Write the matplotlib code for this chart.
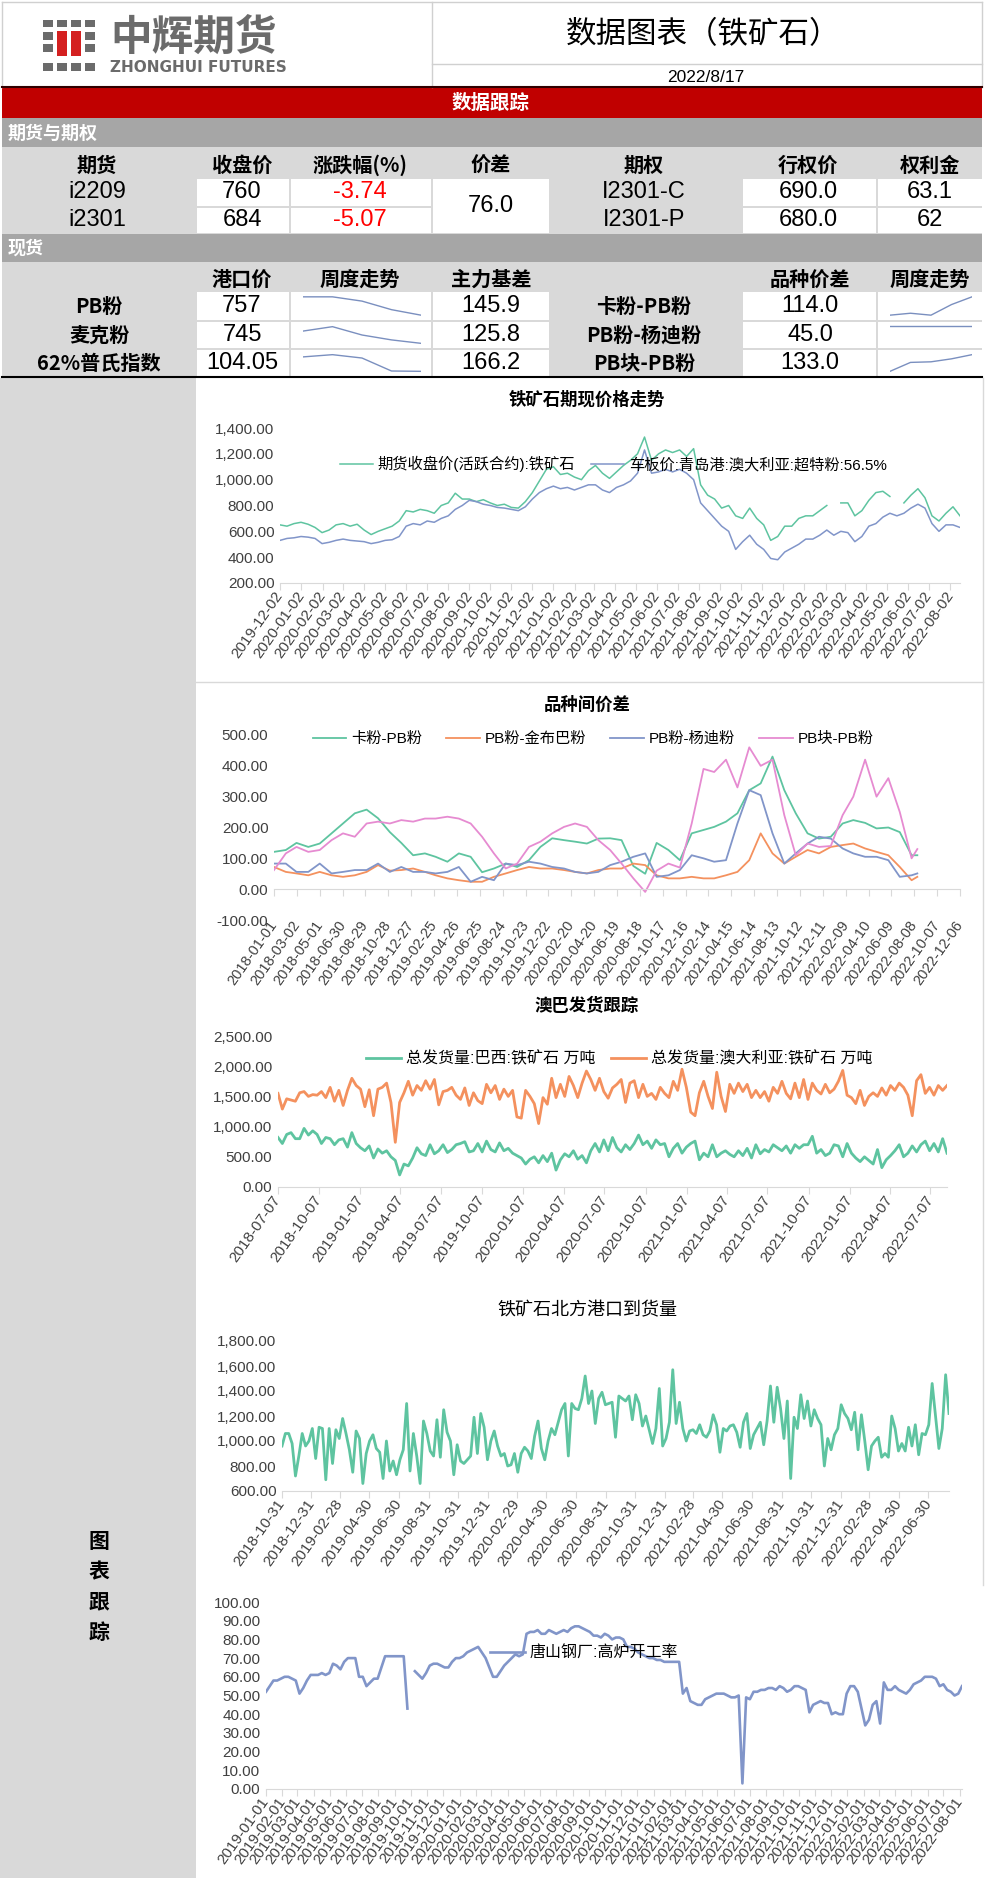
import numpy as np
import pandas as pd
import matplotlib
matplotlib.use('Agg')
import matplotlib.pyplot as plt
from matplotlib.patches import Rectangle
from matplotlib.ticker import FuncFormatter

plt.rcParams['font.family'] = ['Liberation Sans', 'Noto Sans CJK SC', 'DejaVu Sans']
CJK = ['Noto Sans CJK SC', 'DejaVu Sans']
NARROW = ['Liberation Sans Narrow', 'Liberation Sans', 'DejaVu Sans']
nan = np.nan

# ---------------- table data ----------------
fut_cols = ['期货', '收盘价', '涨跌幅(%)', '价差', '期权', '行权价', '权利金']
fut_codes = ['i2209', 'i2301']
fut_close = ['760', '684']
fut_chg = ['-3.74', '-5.07']
fut_spread = '76.0'
opt_codes = ['I2301-C', 'I2301-P']
opt_strike = ['690.0', '680.0']
opt_premium = ['63.1', '62']

spot_cols = ['港口价', '周度走势', '主力基差', '品种价差', '周度走势']
spot_names = ['PB粉', '麦克粉', '62%普氏指数']
spot_price = ['757', '745', '104.05']
spot_basis = ['145.9', '125.8', '166.2']
pair_names = ['卡粉-PB粉', 'PB粉-杨迪粉', 'PB块-PB粉']
pair_spread = ['114.0', '45.0', '133.0']

spot_week = [[787, 787, 780, 766, 757],
             [770, 779, 762, 752, 745],
             [110.5, 111.5, 110.0, 104.2, 104.05]]
pair_week = [[95, 97, 95, 106, 114],
             [45, 45, 45, 45, 45],
             [105, 120, 121, 126, 133]]

# ---------------- chart 1: futures vs spot ----------------
futures_close = [650, 640, 660, 670, 655, 630, 590, 610, 650, 660, 640, 655, 610, 575, 600,
                 620, 640, 680, 760, 750, 770, 760, 740, 800, 820, 895, 850, 850, 830, 845,
                 820, 800, 810, 785, 780, 830, 900, 990, 1080, 1100, 1040, 1050, 1020, 1000,
                 1070, 1110, 1050, 1010, 1060, 1110, 1150, 1200, 1330, 1150, 1200, 1230, 1210,
                 1230, 1180, 1240, 960, 880, 850, 780, 800, 720, 700, 780, 700, 650, 530, 560,
                 640, 640, 700, 720, 720, 760, 800, nan, 820, 820, 720, 760, 840, 900, 910, 870,
                 nan, 820, 880, 930, 860, 720, 680, 740, 790, 720]
spot_qd = [530, 545, 550, 560, 555, 545, 505, 515, 530, 540, 530, 525, 520, 505, 515, 530,
           535, 560, 640, 660, 650, 680, 670, 700, 720, 770, 800, 840, 830, 810, 800, 785,
           780, 770, 760, 790, 850, 900, 930, 950, 930, 940, 920, 940, 960, 960, 920, 900,
           940, 960, 990, 1050, 1230, 1050, 1060, 1080, 1060, 1080, 1050, 1000, 820, 760,
           700, 640, 600, 460, 520, 570, 500, 460, 390, 380, 440, 470, 500, 540, 540, 570,
           610, 570, 600, 590, 520, 560, 640, 660, 710, 740, 720, 740, 780, 810, 780, 660,
           600, 650, 650, 630]

# ---------------- chart 2: spreads (monthly) ----------------
kb_pb = [121, 127, 150, 137, 148, 181, 213, 246, 258, 230, 185, 150,
         110, 116, 105, 89, 116, 105, 55, 67, 83, 72, 94, 137,
         165, 159, 154, 148, 164, 165, 159, 75, 50, 150, 127, 94,
         181, 192, 202, 219, 246, 321, 343, 430, 321, 246, 181, 164,
         170, 213, 224, 215, 197, 200, 185, 110, 110]
pb_jbb = [72, 56, 51, 45, 56, 45, 40, 45, 56, 78, 60, 62,
          67, 56, 45, 35, 29, 24, 24, 40, 51, 62, 72, 67,
          67, 62, 56, 51, 62, 67, 67, 83, 78, 45, 35, 35,
          40, 35, 35, 45, 56, 94, 181, 116, 83, 105, 127, 116,
          137, 143, 148, 132, 121, 110, 72, 29, 40]
pb_yd = [83, 83, 56, 56, 83, 51, 56, 62, 62, 83, 56, 72,
         56, 56, 51, 56, 72, 24, 40, 29, 83, 78, 89, 83,
         72, 67, 56, 51, 56, 78, 89, 105, 116, 40, 45, 62,
         110, 100, 89, 94, 213, 321, 305, 181, 83, 116, 148, 170,
         164, 132, 116, 105, 105, 94, 40, 45, 51]
lump_pb = [62, 116, 137, 121, 127, 159, 181, 170, 213, 219, 213, 224,
           219, 229, 229, 235, 229, 213, 170, 116, 67, 83, 137, 154,
           181, 202, 213, 202, 159, 127, 83, 35, -9, 60, 83, 70,
           213, 390, 380, 420, 330, 460, 400, 420, 240, 110, 148, 137,
           140, 240, 300, 420, 300, 360, 250, 100, 130]

# ---------------- chart 3: shipments ----------------
brazil = [820, 720, 870, 900, 800, 800, 970, 860, 930, 870, 720, 820, 800, 700, 780, 800,
          660, 900, 720, 650, 600, 680, 480, 630, 560, 600, 500, 440, 200, 380, 350, 480,
          650, 550, 520, 700, 550, 600, 700, 570, 620, 700, 720, 750, 580, 600, 720, 580,
          760, 620, 580, 730, 600, 640, 560, 520, 480, 380, 460, 500, 400, 520, 420, 560,
          280, 450, 550, 500, 600, 460, 520, 400, 600, 720, 580, 780, 600, 820, 650, 580,
          700, 620, 720, 860, 700, 760, 640, 780, 700, 720, 500, 640, 720, 560, 660, 720,
          760, 450, 560, 500, 700, 500, 560, 600, 540, 500, 600, 520, 640, 480, 700, 550,
          620, 580, 700, 650, 600, 680, 560, 700, 640, 700, 700, 840, 560, 620, 520, 560,
          700, 680, 500, 720, 560, 480, 420, 500, 440, 380, 620, 320, 450, 520, 600, 700,
          500, 560, 680, 580, 700, 760, 600, 720, 580, 800, 560]
australia = [1550, 1290, 1460, 1440, 1420, 1560, 1580, 1500, 1530, 1520, 1580, 1480, 1650,
             1420, 1600, 1350, 1600, 1800, 1680, 1620, 1330, 1610, 1180, 1620, 1650, 1720,
             1400, 740, 1400, 1560, 1750, 1520, 1680, 1600, 1760, 1620, 1780, 1360, 1580,
             1600, 1650, 1520, 1450, 1640, 1350, 1560, 1430, 1380, 1700, 1560, 1680, 1450,
             1620, 1500, 1600, 1160, 1140, 1600, 1500, 1380, 1050, 1480, 1370, 1800, 1480,
             1700, 1500, 1830, 1680, 1480, 1720, 1920, 1780, 1600, 1800, 1580, 1470, 1640,
             1700, 1780, 1400, 1720, 1760, 1480, 1700, 1500, 1550, 1450, 1650, 1550, 1480,
             1750, 1600, 1950, 1650, 1240, 1180, 1560, 1750, 1500, 1300, 1900, 1500, 1250,
             1700, 1550, 1720, 1580, 1700, 1480, 1600, 1480, 1580, 1420, 1650, 1550, 1750,
             1550, 1460, 1720, 1480, 1780, 1450, 1720, 1600, 1540, 1700, 1560, 1620, 1750,
             1930, 1520, 1480, 1380, 1600, 1350, 1500, 1560, 1500, 1640, 1520, 1680, 1600,
             1720, 1650, 1520, 1180, 1760, 1860, 1550, 1650, 1520, 1680, 1600, 1680]

# ---------------- chart 4: northern port arrivals ----------------
arrivals = [960, 1060, 1060, 980, 720, 880, 1060, 960, 1000, 1100, 860, 1110, 1100, 690,
            1100, 820, 1090, 1020, 1180, 1060, 930, 750, 1080, 1020, 660, 900, 1000, 1050,
            940, 910, 700, 1000, 760, 840, 730, 850, 930, 1300, 760, 1060, 880, 660, 1160,
            1060, 920, 880, 1170, 870, 1250, 1070, 1000, 730, 970, 840, 820, 850, 880, 1190,
            900, 1220, 1110, 850, 1000, 1080, 960, 880, 900, 800, 810, 900, 750, 900, 950,
            920, 860, 1040, 1160, 940, 850, 1000, 1100, 1050, 1150, 1250, 1300, 880, 1300,
            1260, 1250, 1340, 1520, 1300, 1400, 1140, 1340, 1390, 1290, 1300, 1310, 1030,
            1360, 1340, 1320, 1360, 1170, 1370, 1300, 1120, 1200, 1090, 980, 1100, 1420, 960,
            1020, 1150, 1570, 1140, 1310, 1100, 1000, 1080, 1090, 1060, 1130, 1050, 1030,
            1080, 1210, 1130, 910, 1100, 1080, 1120, 1130, 1070, 950, 1150, 1220, 940, 1050,
            1100, 1150, 970, 1160, 1440, 1150, 1430, 1260, 1020, 1320, 700, 1190, 1100, 1370,
            1180, 1320, 1120, 1250, 1180, 1130, 800, 1020, 930, 1050, 1100, 1290, 1220, 1180,
            1090, 1230, 930, 1210, 1000, 770, 960, 1000, 1030, 870, 900, 870, 1200, 1100, 920,
            980, 920, 1110, 960, 1130, 890, 1060, 1050, 1130, 1460, 1200, 940, 1100, 1530, 1220]

# ---------------- chart 5: Tangshan blast furnace rate ----------------
tangshan = [52, 55, 58, 58, 59, 60, 60, 59, 58, 51, 54, 58, 61, 61, 61, 62, 61, 62, 67, 66,
            64, 68, 70, 70, 70, 60, 60, 55, 57, 59, 59, 65, 71, 71, 71, 71, 71, 71, 43, nan,
            63, 61, 59, 62, 66, 67, 67, 66, 65, 65, 68, 70, 70, 71, 73, 74, 75, 76, 73, 70,
            65, 60, 60, 63, 66, 68, 70, 72, 71, 72,
            83, 84, 84, 85, 83, 83, 85, 84, 83, 84, 85, 84, 86, 87, 87, 86, 85, 84, 82, 82,
            81, 83, 82, 80, 81, 81, 80, 76, 76, 75, 73, 72, 71, 70, 70, 69, 69, 68, 68, 68,
            68, 68,
            51, 54, 47, 46, 45, 45, 48, 49, 50, 51, 51, 51, 50, 49, 49, 50, 3, 49, 48, 52,
            52, 53, 53, 54, 54, 53, 55, 54, 52, 53, 55, 55, 54, 53, 41, 45, 46, 47, 46, 46,
            40, 41, 40, 40, 51, 55, 55, 52, 43, 34, 37, 45, 47, 35, 57, 53, 53, 55, 53, 52,
            51, 53, 56, 57, 58, 60, 60, 60, 59, 55, 56, 53, 52, 50, 51, 55]

GREEN = '#5EC4A0'
BLUE = '#8195C9'
ORANGE = '#F4915E'
PINK = '#E68BD1'
GRID = '#D9D9D9'
LABEL = '#404040'

W, H = 1000, 1878
fig = plt.figure(figsize=(W / 100, H / 100), dpi=100)
bg = fig.add_axes([0, 0, 1, 1])
bg.set_xlim(0, W)
bg.set_ylim(H, 0)
bg.axis('off')


def rect(x0, y0, x1, y1, color):
    bg.add_patch(Rectangle((x0, y0), x1 - x0, y1 - y0, facecolor=color, edgecolor='none'))


def txt(x, y, s, size=14.5, color='black', weight='bold', family=CJK, ha='center'):
    bg.text(x, y, s, fontsize=size, color=color, fontweight=weight, family=family,
            ha=ha, va='center')


def sub_axes(x0, y0, x1, y1):
    return fig.add_axes([x0 / W, 1 - y1 / H, (x1 - x0) / W, (y1 - y0) / H])


# ---------------- header ----------------
bg.plot([2, 982], [2, 2], color='#D0D0D0', lw=1)
bg.plot([2, 2], [2, 87], color='#D0D0D0', lw=1)
bg.plot([982, 982], [2, 87], color='#D0D0D0', lw=1)
bg.plot([432, 432], [2, 87], color='#D0D0D0', lw=1)
bg.plot([432, 982], [64, 64], color='#D0D0D0', lw=1)

# logo squares
for cx in [43, 57, 71, 85]:
    rect(cx, 20, cx + 10, 27, '#6B6B6B')
    rect(cx, 63, cx + 10, 71, '#6B6B6B')
for cx in [43, 85]:
    for ry in [32, 44]:
        rect(cx, ry, cx + 10, ry + 8, '#6B6B6B')
for cx in [57, 71]:
    rect(cx, 31, cx + 10, 56, '#D42020')
txt(110, 38, '中辉期货', size=30, color='#6B6B6B', ha='left')
txt(110, 67, 'ZHONGHUI FUTURES', size=11, color='#6B6B6B', family=['DejaVu Sans'], ha='left')

txt(703, 35, '数据图表（铁矿石）', size=22, weight='normal')
txt(706, 78, '2022/8/17', size=12.5, weight='normal', family=NARROW)

# red band
rect(2, 87, 982, 118, '#C00000')
bg.plot([2, 982], [87, 87], color='#300000', lw=1.5)
txt(491, 103, '数据跟踪', size=14, color='white')

# ---------------- futures / options block ----------------
rect(2, 118, 982, 147, '#A6A6A6')
txt(8, 133, '期货与期权', size=13, color='white', ha='left')
rect(2, 147, 982, 234, '#D9D9D9')
fut_x = [97, 242, 360, 491, 644, 808, 930]
for x, s in zip(fut_x, fut_cols):
    txt(x, 165, s)

row_y = [(179, 206), (208, 233)]
for (y0, y1) in row_y:
    rect(197, y0, 289, y1, 'white')
    rect(291, y0, 431, y1, 'white')
    rect(743, y0, 876, y1, 'white')
    rect(878, y0, 982, y1, 'white')
rect(433, 179, 549, 233, 'white')

for i, (y0, y1) in enumerate(row_y):
    yc = (y0 + y1) / 2
    txt(97, yc, fut_codes[i], size=17, weight='normal', family=NARROW)
    txt(242, yc, fut_close[i], size=17, weight='normal', family=NARROW)
    txt(360, yc, fut_chg[i], size=17, weight='normal', family=NARROW, color='#FF0000')
    txt(644, yc, opt_codes[i], size=17, weight='normal', family=NARROW)
    txt(808, yc, opt_strike[i], size=17, weight='normal', family=NARROW)
    txt(930, yc, opt_premium[i], size=17, weight='normal', family=NARROW)
txt(491, 206, fut_spread, size=17, weight='normal', family=NARROW)

# ---------------- spot block ----------------
rect(2, 234, 982, 262, '#A6A6A6')
txt(8, 248, '现货', size=13, color='white', ha='left')
rect(2, 262, 982, 377, '#D9D9D9')
for x, s in zip([242, 360, 491, 810, 930], spot_cols):
    txt(x, 279, s)

spot_rows = [(292, 320), (322, 348), (350, 376)]
for i, (y0, y1) in enumerate(spot_rows):
    yc = (y0 + y1) / 2
    rect(197, y0, 289, y1, 'white')
    rect(291, y0, 431, y1, 'white')
    rect(433, y0, 549, y1, 'white')
    rect(743, y0, 876, y1, 'white')
    rect(878, y0, 982, y1, 'white')
    txt(99, yc, spot_names[i])
    txt(242, yc, spot_price[i], size=17, weight='normal', family=NARROW)
    txt(491, yc, spot_basis[i], size=17, weight='normal', family=NARROW)
    txt(644, yc, pair_names[i])
    txt(810, yc, pair_spread[i], size=17, weight='normal', family=NARROW)
    for (x0, x1, vals) in [(291, 431, spot_week[i]), (878, 982, pair_week[i])]:
        sp = sub_axes(x0 + 12, y0 + 3, x1 - 10, y1 - 3)
        sp.plot(range(len(vals)), vals, color='#7A8FBF', lw=1)
        lo, hi = min(vals), max(vals)
        if hi == lo:
            sp.set_ylim(lo - 10, lo + 0.5)
        else:
            pad = (hi - lo) * 0.1
            sp.set_ylim(lo - pad, hi + pad)
        sp.set_xlim(0, len(vals) - 1)
        sp.axis('off')
        sp.patch.set_alpha(0)

bg.plot([2, 982], [377, 377], color='black', lw=1.5)

# left panel and frames
rect(0, 378, 196, H, '#D9D9D9')
for k, ch in enumerate('图表跟踪'):
    txt(99, 1542 + k * 30, ch, size=15)
bg.plot([983, 983], [378, 1585], color=GRID, lw=1)
bg.plot([196, 983], [682, 682], color=GRID, lw=1)


def yfmt(v, p):
    return f'{v:,.2f}'


def style(ax, ylo, yhi, step, ticks, xlo, xhi, rot=55, pad=2, xsize=11):
    ax.set_ylim(ylo, yhi)
    ax.set_yticks(np.arange(ylo, yhi + step / 2, step))
    ax.yaxis.set_major_formatter(FuncFormatter(yfmt))
    ax.set_xlim(pd.Timestamp(xlo), pd.Timestamp(xhi))
    ax.set_xticks(ticks)
    ax.set_xticklabels([d.strftime('%Y-%m-%d') for d in ticks], rotation=rot,
                       ha='right', va='center', rotation_mode='anchor')
    for s in ['top', 'right', 'left']:
        ax.spines[s].set_visible(False)
    ax.spines['bottom'].set_color(GRID)
    ax.tick_params(axis='y', length=0, labelsize=11, labelcolor=LABEL, pad=4)
    ax.tick_params(axis='x', length=5, color=GRID, labelsize=xsize, labelcolor=LABEL, pad=pad)
    ax.patch.set_alpha(0)


def title(x, y, s, size=12.5, weight='bold'):
    txt(x, y, s, size=size, weight=weight)


# ---------------- chart 1 ----------------
ax1 = sub_axes(280, 428, 960, 583)
d1 = pd.date_range('2019-12-02', '2022-08-16', periods=len(futures_close))
ax1.plot(d1, futures_close, color=GREEN, lw=1.1, label='期货收盘价(活跃合约):铁矿石')
ax1.plot(d1, spot_qd, color=BLUE, lw=1.1, label='车板价:青岛港:澳大利亚:超特粉:56.5%')
style(ax1, 200, 1400, 200, pd.date_range('2019-12-02', periods=33, freq=pd.DateOffset(months=1)),
      '2019-12-02', '2022-08-16')
ax1.legend(loc='center', bbox_to_anchor=(0.49, 0.768), ncol=2, frameon=False, fontsize=11,
           handlelength=2.2, handletextpad=0.3, columnspacing=1.0)
title(587, 400, '铁矿石期现价格走势')

# ---------------- chart 2 ----------------
ax2 = sub_axes(274, 735, 960, 920)
ax2.spines['bottom'].set_position(('data', 0))
d2 = list(pd.date_range('2018-01-01', '2022-08-01', freq='MS')) + [pd.Timestamp('2022-08-16')]
ax2.plot(d2, kb_pb, color=GREEN, lw=1.3, label='卡粉-PB粉')
ax2.plot(d2, pb_jbb, color=ORANGE, lw=1.3, label='PB粉-金布巴粉')
ax2.plot(d2, pb_yd, color=BLUE, lw=1.3, label='PB粉-杨迪粉')
ax2.plot(d2, lump_pb, color=PINK, lw=1.3, label='PB块-PB粉')
style(ax2, -100, 500, 100, pd.date_range('2018-01-01', '2022-12-06', freq='60D'),
      '2018-01-01', '2022-12-06', pad=19, xsize=10.5)
ax2.legend(loc='center', bbox_to_anchor=(0.465, 0.978), ncol=4, frameon=False, fontsize=11,
           handlelength=2.2, handletextpad=0.3, columnspacing=1.6)
title(587, 705, '品种间价差')

# ---------------- chart 3 ----------------
ax3 = sub_axes(278, 1036, 947, 1187)
ax3.plot(pd.date_range('2018-07-07', '2022-08-13', periods=len(brazil)), brazil,
         color=GREEN, lw=2, label='总发货量:巴西:铁矿石 万吨')
ax3.plot(pd.date_range('2018-07-07', '2022-08-13', periods=len(australia)), australia,
         color=ORANGE, lw=2, label='总发货量:澳大利亚:铁矿石 万吨')
style(ax3, 0, 2500, 500, pd.date_range('2018-07-07', periods=17, freq=pd.DateOffset(months=3)),
      '2018-07-07', '2022-08-13')
ax3.legend(loc='center', bbox_to_anchor=(0.51, 0.848), ncol=2, frameon=False, fontsize=11.5,
           handlelength=2.2, handletextpad=0.3, columnspacing=1.0)
title(587, 1006, '澳巴发货跟踪')

# ---------------- chart 4 ----------------
ax4 = sub_axes(282, 1341, 949, 1491)
ax4.plot(pd.date_range('2018-10-31', '2022-08-12', periods=len(arrivals)), arrivals,
         color=GREEN, lw=2)
style(ax4, 600, 1800, 200,
      pd.date_range('2018-10-31', '2022-06-30', freq=pd.offsets.MonthEnd(2)),
      '2018-10-31', '2022-08-12')
title(587, 1310, '铁矿石北方港口到货量', size=13, weight='normal')

# ---------------- chart 5 ----------------
ax5 = sub_axes(266, 1602, 962, 1789)
ax5.plot(pd.date_range('2019-01-01', '2022-08-05', periods=len(tangshan)), tangshan,
         color=BLUE, lw=1.9, label='唐山钢厂:高炉开工率')
style(ax5, 0, 100, 10, pd.date_range('2019-01-01', '2022-08-01', freq='MS'),
      '2019-01-01', '2022-08-05')
ax5.legend(loc='center', bbox_to_anchor=(0.457, 0.727), frameon=False, fontsize=11.5,
           handlelength=2.2, handletextpad=0.3)

fig.savefig('out.png', dpi=100)
